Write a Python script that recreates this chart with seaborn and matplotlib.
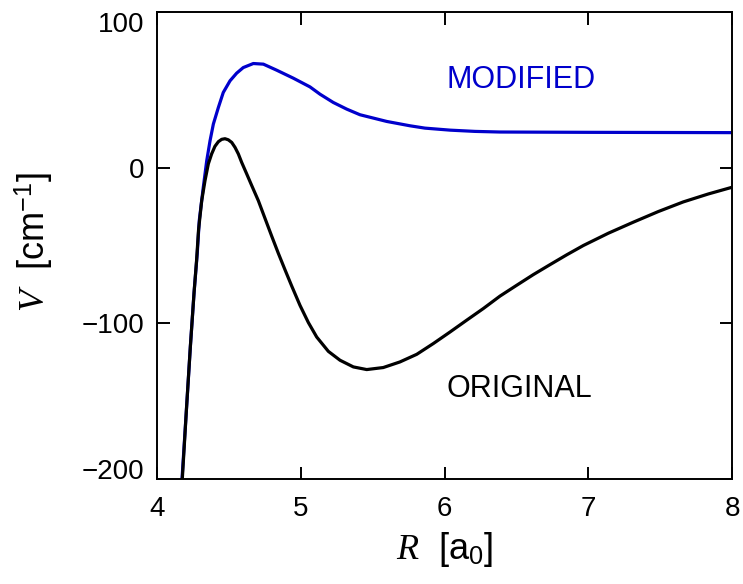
import numpy as np
import pandas as pd
import matplotlib
matplotlib.use('Agg')
import matplotlib.pyplot as plt
import seaborn as sns

# datos
r_original = [4.176, 4.205, 4.232, 4.258, 4.275, 4.289, 4.311, 4.334, 4.357, 4.380,
              4.403, 4.427, 4.450, 4.473, 4.496, 4.520, 4.543, 4.566, 4.589, 4.624,
              4.659, 4.705, 4.751, 4.798, 4.844, 4.890, 4.937, 4.995, 5.053, 5.111,
              5.192, 5.273, 5.366, 5.459, 5.574, 5.690, 5.807, 5.922, 6.038, 6.154,
              6.270, 6.386, 6.503, 6.618, 6.734, 6.850, 6.966, 7.140, 7.314, 7.487,
              7.661, 7.835, 8.000]
v_original = [-200, -155, -115, -80, -60, -40, -21.2, -8.3, 2.4, 8.8,
              13.7, 16.7, 18.2, 18.6, 17.9, 16.2, 13, 8.8, 3.4, -4,
              -11.5, -21.2, -32.5, -44, -55, -65.5, -76, -88.5, -99.5, -108.8,
              -118, -123.7, -128, -129.7, -128.4, -124.8, -119.9, -113, -105.6, -98,
              -90.5, -82.5, -75.5, -68.7, -62.3, -56, -50, -42.1, -35, -28.2,
              -22, -16.9, -12.6]

r_modificado = [4.174, 4.205, 4.232, 4.258, 4.280, 4.294, 4.322, 4.346, 4.369, 4.392,
                4.427, 4.461, 4.508, 4.554, 4.600, 4.670, 4.740, 4.833, 4.948, 5.064,
                5.134, 5.226, 5.320, 5.412, 5.598, 5.760, 5.864, 6.040, 6.212, 6.386,
                7.000, 8.000]
v_modificado = [-200, -155, -115, -80, -55, -34, -12.6, 4.5, 17.3, 28,
                38.7, 48.3, 55.8, 60.7, 64.3, 66.9, 66.5, 62.6, 57.5, 51.9,
                47.2, 41.9, 37.6, 34, 29.7, 26.9, 25.4, 24.1, 23.3, 22.9,
                22.7, 22.5]

ticks_x = [4, 5, 6, 7, 8]
ticks_y = [-200, -100, 0, 100]

azul = '#0000cc'

sns.set_theme(style='ticks')
plt.rcParams['font.family'] = ['Liberation Sans', 'DejaVu Sans']
plt.rcParams['mathtext.fontset'] = 'custom'
plt.rcParams['mathtext.it'] = 'Liberation Serif:italic'
plt.rcParams['mathtext.rm'] = 'Liberation Sans'

fig = plt.figure(figsize=(7.43, 5.84), dpi=100)
ax = fig.add_axes([157 / 743, 105 / 584, 575 / 743, 467 / 584])

df_orig = pd.DataFrame({'R': r_original, 'V': v_original})
df_mod = pd.DataFrame({'R': r_modificado, 'V': v_modificado})

sns.lineplot(data=df_mod, x='R', y='V', color=azul, lw=2.3, ax=ax,
             estimator=None, sort=False)
sns.lineplot(data=df_orig, x='R', y='V', color='black', lw=2.3, ax=ax,
             estimator=None, sort=False)

ax.set_xlim(4, 8)
ax.set_ylim(-200, 100)
ax.set_xticks(ticks_x)
ax.set_yticks(ticks_y)
ax.set_xticklabels([str(t) for t in ticks_x])
ax.set_yticklabels(['\u2212200', '\u2212100', '0', '100'])

ax.tick_params(direction='in', length=9, width=1.4, labelsize=20, color='black',
               top=True, right=True, labelcolor='black')
ax.tick_params(axis='x', pad=12)
ax.tick_params(axis='y', pad=9)
for s in ax.spines.values():
    s.set_linewidth(1.4)
    s.set_color('black')

# etiquetas extremas del eje y corridas hacia adentro
etiquetas_y = ax.get_yticklabels()
etiquetas_y[0].set_va('baseline')
etiquetas_y[-1].set_va('top')

ax.text(6.53, 56, 'MODIFIED', color=azul, fontsize=22, ha='center', va='center')
ax.text(6.52, -142, 'ORIGINAL', color='black', fontsize=22, ha='center', va='center')

ax.set_xlabel(r'$R$  [a$_0$]', fontsize=26, color='black')
ax.set_ylabel(r'$V$  [cm$^{-1}$]', fontsize=26, color='black')
ax.xaxis.set_label_coords(0.5, -0.11)
ax.yaxis.set_label_coords(-0.177, 0.507)

fig.savefig('out.png', dpi=100)
